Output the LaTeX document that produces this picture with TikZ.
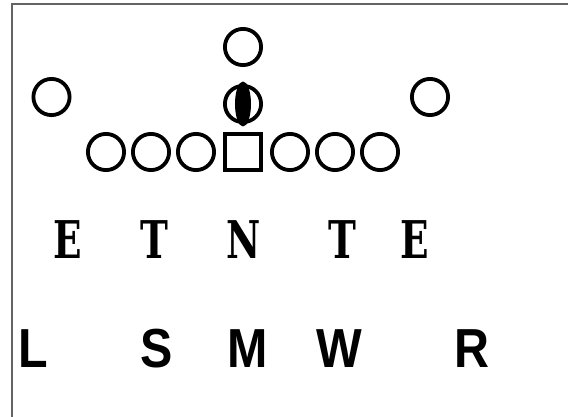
\documentclass[tikz,border=0pt]{standalone}
\usepackage{fontspec}
\newfontfamily\linefont{DejaVu Serif}
\newfontfamily\backfont{Liberation Sans}
\usepackage{tikz}
\usepackage{xcolor}
\definecolor{framegray}{RGB}{100,100,100}

\begin{document}
\begin{tikzpicture}[x=1pt,y=-1pt,
  player/.style={circle,draw=black,line width=3.8pt,minimum size=36.2pt,inner sep=0pt},
  center/.style={rectangle,draw=black,line width=3.8pt,minimum size=36.2pt,inner sep=0pt},
  lineman/.style={font=\linefont\bfseries\fontsize{52}{52}\selectfont,xscale=0.72,transform shape,inner sep=0pt},
  backer/.style={font=\backfont\bfseries\fontsize{55}{55}\selectfont,xscale=0.88,transform shape,inner sep=0pt}]
  \useasboundingbox (0,0) rectangle (568,417);
  \draw[framegray,line width=1.5pt] (12,417) -- (12,4) -- (568,4);
  % offense
  \node[player] (deep) at (243,47) {};
  \node[player] (wingL) at (51.5,97) {};
  \node[player] (wingR) at (430,97) {};
  \node[player] (qb) at (243,104) {};
  \fill[black] (qb.center) ellipse (8 and 22.5);
  \node[player] (o1) at (106,152) {};
  \node[player] (o2) at (151,152) {};
  \node[player] (o3) at (196,152) {};
  \node[center] (ctr) at (243,152) {};
  \node[player] (o5) at (290,152) {};
  \node[player] (o6) at (335,152) {};
  \node[player] (o7) at (380,152) {};
  % defensive line
  \node[lineman] (endL) at (67.5,240) {E};
  \node[lineman] (tackL) at (154.5,240) {T};
  \node[lineman] (nose) at (244,240) {N};
  \node[lineman] (tackR) at (342,240) {T};
  \node[lineman] (endR) at (415,240) {E};
  % linebackers
  \node[backer] (lolb) at (33.5,349) {L};
  \node[backer] (slb) at (157,349) {S};
  \node[backer] (mlb) at (248,349) {M};
  \node[backer] (wlb) at (339,349) {W};
  \node[backer] (rolb) at (472,349) {R};
\end{tikzpicture}
\end{document}
